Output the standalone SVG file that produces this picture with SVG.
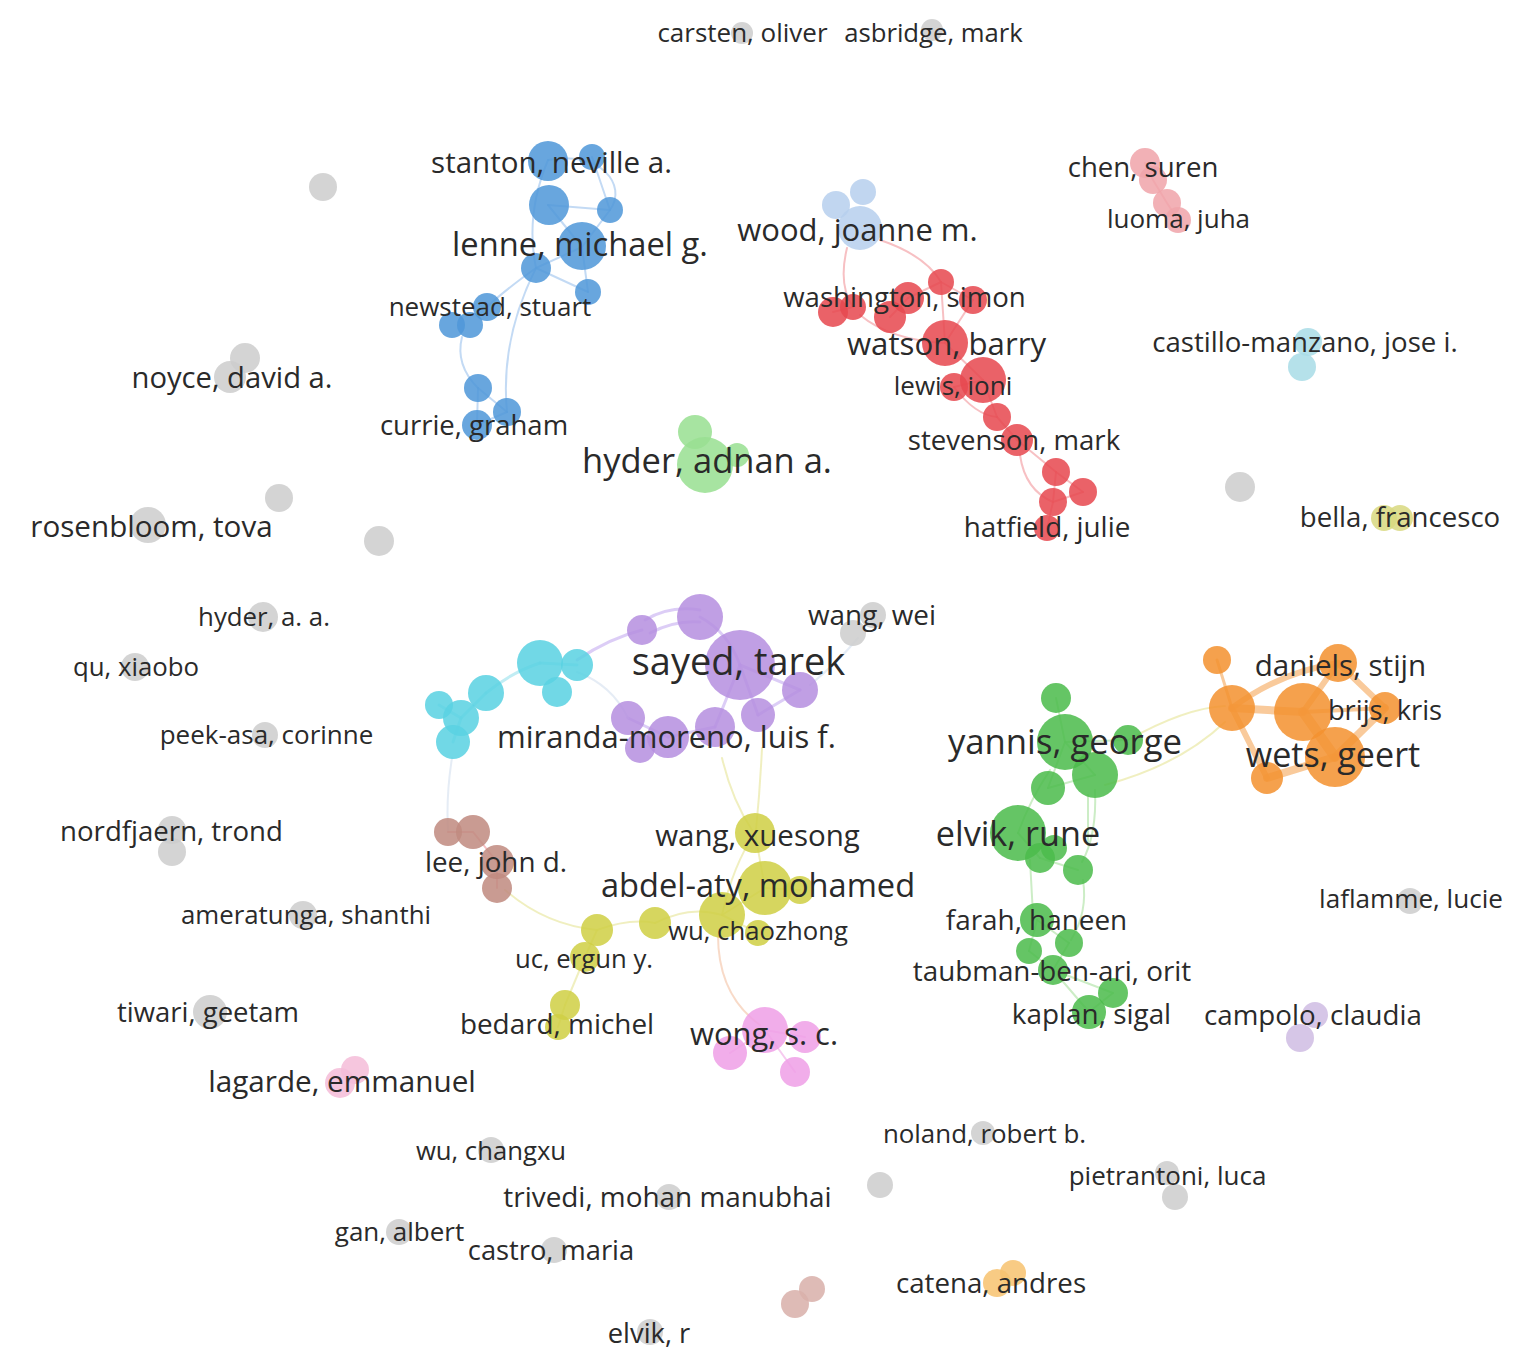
<svg xmlns="http://www.w3.org/2000/svg" width="1537" height="1369" viewBox="0 0 1537 1369">
<style>
text{font-family:"Open Sans","Noto Sans","Liberation Sans",sans-serif;fill:#2a2a2a;text-anchor:middle}
circle{fill-opacity:0.86}
.gy{fill:#cdcdcd}.bl{fill:#4f97d9}.lb{fill:#b7cfee}.rd{fill:#e6484f}.pk{fill:#f0a4aa}.lc{fill:#a9dce6}
.bf{fill:#d8d880}.lg{fill:#98e092}.pu{fill:#b68fe0}.cy{fill:#5ad2e2}.or{fill:#f39230}.gr{fill:#4cbb4c}
.br{fill:#c08a80}.ye{fill:#cfcf45}.wp{fill:#ef9fe6}.lp{fill:#f5bdd8}.lv{fill:#cfbde3}.lo{fill:#f7c270}.bb{fill:#d9b0aa}
#edges path{fill:none;stroke-linecap:round}
.eb{stroke:#a9cbf0;stroke-width:2;opacity:.7}
.er{stroke:#f4a5aa;stroke-width:2;opacity:.7}
.ep{stroke:#cdb8f2;stroke-width:3;opacity:.7}
.ec{stroke:#a6e6ef;stroke-width:3;opacity:.7}
.ey{stroke:#ecebb0;stroke-width:2;opacity:.8}
.eg{stroke:#bfe8b8;stroke-width:2;opacity:.8}
.eo{stroke:#f7b87a;opacity:.75}
.ew{stroke:#f2b3e8;stroke-width:2;opacity:.7}
.ef{stroke:#dfe7f2;stroke-width:2;opacity:.8}
</style>
<rect width="1537" height="1369" fill="#ffffff"/>
<g id="edges">
<path class="eb" d="M548,160 Q525,215 536,268"/>
<path class="eb" d="M548,160 C600,150 628,185 610,210"/>
<path class="eb" d="M592,157 L610,210"/>
<path class="eb" d="M548,205 L582,247"/>
<path class="eb" d="M548,205 L610,210"/>
<path class="eb" d="M582,247 L610,210"/>
<path class="eb" d="M536,268 L582,247"/>
<path class="eb" d="M536,268 L588,292"/>
<path class="eb" d="M582,247 L588,292"/>
<path class="eb" d="M536,268 Q505,290 487,307"/>
<path class="eb" d="M462,337 Q455,365 478,388"/>
<path class="eb" d="M536,268 Q500,340 507,412"/>
<path class="eb" d="M478,388 L507,412"/>
<path class="eb" d="M478,388 L477,425"/>
<path class="eb" d="M507,412 L477,425"/>
<path class="er" d="M880,240 Q925,255 941,282"/>
<path class="er" d="M847,248 Q838,285 853,307"/>
<path class="er" d="M833,312 L853,307"/>
<path class="er" d="M860,315 Q890,340 945,343"/>
<path class="er" d="M890,317 L908,298"/>
<path class="er" d="M908,298 L941,282"/>
<path class="er" d="M941,282 L973,300"/>
<path class="er" d="M941,282 L945,343"/>
<path class="er" d="M973,300 L945,343"/>
<path class="er" d="M945,343 L983,380"/>
<path class="er" d="M954,387 L983,380"/>
<path class="er" d="M954,387 Q975,415 997,417"/>
<path class="er" d="M983,380 L997,417"/>
<path class="er" d="M997,417 L1017,440"/>
<path class="er" d="M1017,440 L1056,472"/>
<path class="er" d="M1020,455 Q1025,490 1053,502"/>
<path class="er" d="M1056,472 L1083,492"/>
<path class="er" d="M1056,472 L1053,502"/>
<path class="er" d="M1053,502 L1047,528"/>
<path class="er" d="M1083,492 L1053,502"/>
<path class="er" d="M1145,163 L1153,180 L1167,203 L1178,220"/>
<path class="ep" d="M577,660 Q610,638 642,630"/>
<path class="ep" d="M645,620 Q670,605 700,610"/>
<path class="ep" d="M650,633 Q675,620 700,622"/>
<path class="ep" d="M700,617 Q728,632 740,665"/>
<path class="ep" d="M740,665 L800,690"/>
<path class="ep" d="M800,690 L758,715"/>
<path class="ep" d="M740,665 L715,727"/>
<path class="ep" d="M740,665 L758,715"/>
<path class="ep" d="M668,737 L715,727"/>
<path class="ep" d="M628,718 L668,737"/>
<path class="ef" d="M577,672 Q612,685 628,718"/>
<path class="ef" d="M810,685 Q838,662 858,638"/>
<path class="ec" d="M540,663 L577,665"/>
<path class="ec" d="M486,693 Q512,672 540,663"/>
<path class="ec" d="M461,718 L486,693"/>
<path class="ec" d="M439,705 L461,718"/>
<path class="ec" d="M453,742 L461,718"/>
<path class="ef" d="M452,758 Q446,795 448,832"/>
<path class="er" d="M448,832 L473,832 L497,862 L497,888"/>
<path class="ey" d="M505,890 Q545,925 597,930"/>
<path class="ey" d="M722,758 Q732,800 752,830"/>
<path class="ey" d="M762,748 Q760,790 756,830"/>
<path class="ey" d="M597,930 Q630,918 655,923"/>
<path class="ey" d="M655,923 Q690,905 722,915"/>
<path class="ey" d="M722,915 L765,888"/>
<path class="ey" d="M755,833 L765,888"/>
<path class="ey" d="M765,888 L800,890"/>
<path class="ey" d="M722,915 L758,933"/>
<path class="ey" d="M755,833 Q733,865 722,915"/>
<path class="ey" d="M597,930 L585,957"/>
<path class="ey" d="M585,957 L565,1005"/>
<path class="ey" d="M565,1005 L558,1027"/>
<path class="ew" d="M718,935 Q718,995 760,1025" style="stroke:#f5cbb0"/>
<path class="ew" d="M765,1030 L730,1053"/>
<path class="ew" d="M765,1030 L805,1037"/>
<path class="ew" d="M765,1030 L795,1072"/>
<path class="ey" d="M1128,740 Q1185,708 1225,706"/>
<path class="ey" d="M1105,785 Q1180,765 1225,722"/>
<path class="eg" d="M1056,698 L1065,742"/>
<path class="eg" d="M1065,742 L1095,775"/>
<path class="eg" d="M1065,742 L1128,740"/>
<path class="eg" d="M1048,788 L1065,742"/>
<path class="eg" d="M1048,788 L1095,775"/>
<path class="eg" d="M1050,770 Q1030,800 1018,833"/>
<path class="eg" d="M1018,833 L1040,858"/>
<path class="eg" d="M1040,858 L1078,870"/>
<path class="eg" d="M1095,790 Q1097,835 1082,862"/>
<path class="eg" d="M1088,795 L1088,845"/>
<path class="eg" d="M1030,860 L1033,915"/>
<path class="eg" d="M1083,880 Q1088,912 1071,940"/>
<path class="eg" d="M1037,920 L1029,951"/>
<path class="eg" d="M1037,920 L1069,943"/>
<path class="eg" d="M1029,951 L1053,970"/>
<path class="eg" d="M1069,943 L1053,970"/>
<path class="eg" d="M1053,970 L1089,1012"/>
<path class="eg" d="M1053,970 L1113,993"/>
<path class="eg" d="M1113,993 L1089,1012"/>
<path class="eo" style="stroke-width:8" d="M1232,708 L1303,712"/>
<path class="eo" style="stroke-width:10" d="M1303,712 L1335,757"/>
<path class="eo" style="stroke-width:6" d="M1232,708 L1267,778"/>
<path class="eo" style="stroke-width:8" d="M1267,778 L1335,757"/>
<path class="eo" style="stroke-width:6" d="M1338,663 L1385,708"/>
<path class="eo" style="stroke-width:8" d="M1385,708 L1335,757"/>
<path class="eo" style="stroke-width:6" d="M1232,708 Q1280,672 1338,663"/>
<path class="eo" style="stroke-width:3" d="M1217,660 L1232,708"/>
<path class="eo" style="stroke-width:6" d="M1303,712 L1338,663"/>
<path class="eo" style="stroke-width:4" d="M1303,712 L1385,708"/>
</g>

<g id="n-gray-323-187"><circle class="gy" cx="323" cy="187" r="14"/></g>
<g id="n-gray-245-358"><circle class="gy" cx="245" cy="358" r="15"/></g>
<g id="n-gray-279-498"><circle class="gy" cx="279" cy="498" r="14"/></g>
<g id="n-gray-379-541"><circle class="gy" cx="379" cy="541" r="15"/></g>
<g id="n-gray-1240-487"><circle class="gy" cx="1240" cy="487" r="15"/></g>
<g id="n-gray-853-633"><circle class="gy" cx="853" cy="633" r="13"/></g>
<g id="n-gray-172-852"><circle class="gy" cx="172" cy="852" r="14"/></g>
<g id="n-gray-880-1185"><circle class="gy" cx="880" cy="1185" r="13"/></g>
<g id="n-gray-1175-1197"><circle class="gy" cx="1175" cy="1197" r="13"/></g>
<g id="n-brown-812-1289"><circle class="bb" cx="812" cy="1289" r="13"/></g>
<g id="n-brown-795-1304"><circle class="bb" cx="795" cy="1304" r="14"/></g>
<g id="n-blue-592-157"><circle class="bl" cx="592" cy="157" r="13"/></g>
<g id="n-blue-548-205"><circle class="bl" cx="549" cy="205" r="20"/></g>
<g id="n-blue-610-210"><circle class="bl" cx="610" cy="210" r="13"/></g>
<g id="n-blue-536-268"><circle class="bl" cx="536" cy="268" r="15"/></g>
<g id="n-blue-588-292"><circle class="bl" cx="588" cy="292" r="13"/></g>
<g id="n-blue-452-325"><circle class="bl" cx="452" cy="325" r="13"/></g>
<g id="n-blue-470-325"><circle class="bl" cx="470" cy="325" r="13"/></g>
<g id="n-blue-478-388"><circle class="bl" cx="478" cy="388" r="14"/></g>
<g id="n-blue-507-412"><circle class="bl" cx="507" cy="412" r="14"/></g>
<g id="n-lblue-836-205"><circle class="lb" cx="836" cy="205" r="14"/></g>
<g id="n-lblue-863-192"><circle class="lb" cx="863" cy="192" r="13"/></g>
<g id="n-red-941-282"><circle class="rd" cx="941" cy="282" r="13"/></g>
<g id="n-red-908-298"><circle class="rd" cx="908" cy="298" r="16"/></g>
<g id="n-red-833-312"><circle class="rd" cx="833" cy="312" r="15"/></g>
<g id="n-red-890-317"><circle class="rd" cx="890" cy="317" r="16"/></g>
<g id="n-red-973-300"><circle class="rd" cx="973" cy="300" r="14"/></g>
<g id="n-red-954-387"><circle class="rd" cx="954" cy="387" r="14"/></g>
<g id="n-red-997-417"><circle class="rd" cx="997" cy="417" r="14"/></g>
<g id="n-red-1056-472"><circle class="rd" cx="1056" cy="472" r="14"/></g>
<g id="n-red-1083-492"><circle class="rd" cx="1083" cy="492" r="14"/></g>
<g id="n-red-1053-502"><circle class="rd" cx="1053" cy="502" r="14"/></g>
<g id="n-pink-1153-180"><circle class="pk" cx="1153" cy="180" r="14"/></g>
<g id="n-pink-1167-203"><circle class="pk" cx="1167" cy="203" r="14"/></g>
<g id="n-lcyan-1302-367"><circle class="lc" cx="1302" cy="367" r="14"/></g>
<g id="n-bella-1384-518"><circle class="bf" cx="1384" cy="518" r="13"/></g>
<g id="n-lgreen-695-432"><circle class="lg" cx="695" cy="432" r="17"/></g>
<g id="n-lgreen-737-455"><circle class="lg" cx="737" cy="455" r="12"/></g>
<g id="n-purple-642-630"><circle class="pu" cx="642" cy="630" r="15"/></g>
<g id="n-purple-700-617"><circle class="pu" cx="700" cy="617" r="23"/></g>
<g id="n-purple-800-690"><circle class="pu" cx="800" cy="690" r="18"/></g>
<g id="n-purple-758-715"><circle class="pu" cx="758" cy="715" r="17"/></g>
<g id="n-purple-715-727"><circle class="pu" cx="715" cy="727" r="20"/></g>
<g id="n-purple-628-718"><circle class="pu" cx="628" cy="718" r="17"/></g>
<g id="n-purple-640-748"><circle class="pu" cx="640" cy="748" r="15"/></g>
<g id="n-cyan-540-663"><circle class="cy" cx="540" cy="663" r="23"/></g>
<g id="n-cyan-577-665"><circle class="cy" cx="577" cy="665" r="16"/></g>
<g id="n-cyan-557-692"><circle class="cy" cx="557" cy="692" r="15"/></g>
<g id="n-cyan-486-693"><circle class="cy" cx="486" cy="693" r="18"/></g>
<g id="n-cyan-439-705"><circle class="cy" cx="439" cy="705" r="14"/></g>
<g id="n-cyan-461-718"><circle class="cy" cx="461" cy="718" r="18"/></g>
<g id="n-cyan-453-742"><circle class="cy" cx="453" cy="742" r="17"/></g>
<g id="n-orange-1217-660"><circle class="or" cx="1217" cy="660" r="14"/></g>
<g id="n-orange-1232-708"><circle class="or" cx="1232" cy="708" r="23"/></g>
<g id="n-orange-1303-712"><circle class="or" cx="1303" cy="712" r="29"/></g>
<g id="n-orange-1267-778"><circle class="or" cx="1267" cy="778" r="16"/></g>
<g id="n-green-1056-698"><circle class="gr" cx="1056" cy="698" r="15"/></g>
<g id="n-green-1128-740"><circle class="gr" cx="1128" cy="740" r="15"/></g>
<g id="n-green-1095-775"><circle class="gr" cx="1095" cy="775" r="23"/></g>
<g id="n-green-1048-788"><circle class="gr" cx="1048" cy="788" r="17"/></g>
<g id="n-green-1040-858"><circle class="gr" cx="1040" cy="858" r="15"/></g>
<g id="n-green-1054-848"><circle class="gr" cx="1054" cy="848" r="13"/></g>
<g id="n-green-1078-870"><circle class="gr" cx="1078" cy="870" r="15"/></g>
<g id="n-green-1029-951"><circle class="gr" cx="1029" cy="951" r="13"/></g>
<g id="n-green-1069-943"><circle class="gr" cx="1069" cy="943" r="14"/></g>
<g id="n-green-1113-993"><circle class="gr" cx="1113" cy="993" r="15"/></g>
<g id="n-brown-448-832"><circle class="br" cx="448" cy="832" r="14"/></g>
<g id="n-brown-473-832"><circle class="br" cx="473" cy="832" r="17"/></g>
<g id="n-brown-497-888"><circle class="br" cx="497" cy="888" r="15"/></g>
<g id="n-yellow-800-890"><circle class="ye" cx="800" cy="890" r="14"/></g>
<g id="n-yellow-722-915"><circle class="ye" cx="722" cy="915" r="23"/></g>
<g id="n-yellow-655-923"><circle class="ye" cx="655" cy="923" r="16"/></g>
<g id="n-yellow-597-930"><circle class="ye" cx="597" cy="930" r="16"/></g>
<g id="n-yellow-565-1005"><circle class="ye" cx="565" cy="1005" r="15"/></g>
<g id="n-pinkw-730-1053"><circle class="wp" cx="730" cy="1053" r="17"/></g>
<g id="n-pinkw-805-1037"><circle class="wp" cx="805" cy="1037" r="16"/></g>
<g id="n-pinkw-795-1072"><circle class="wp" cx="795" cy="1072" r="15"/></g>
<g id="n-lpink-355-1070"><circle class="lp" cx="355" cy="1070" r="14"/></g>
<g id="n-lav-1300-1038"><circle class="lv" cx="1300" cy="1038" r="14"/></g>
<g id="n-lorange-1013-1273"><circle class="lo" cx="1013" cy="1273" r="13"/></g>

<g id="n-carsten-oliver"><circle class="gy" cx="742" cy="33" r="11"/><text x="742.5" y="42" font-size="26">carsten, oliver</text></g>
<g id="n-asbridge-mark"><circle class="gy" cx="932" cy="30" r="11"/><text x="933.5" y="42" font-size="25.7">asbridge, mark</text></g>
<g id="n-stanton-neville"><circle class="bl" cx="548" cy="161" r="20"/><text x="551.5" y="173" font-size="29.5">stanton, neville a.</text></g>
<g id="n-lenne-michael"><circle class="bl" cx="582" cy="246" r="24"/><text x="580" y="256" font-size="32.7">lenne, michael g.</text></g>
<g id="n-newstead-stuart"><circle class="bl" cx="487" cy="307" r="14"/><text x="490" y="316" font-size="26">newstead, stuart</text></g>
<g id="n-currie-graham"><circle class="bl" cx="477" cy="425" r="15"/><text x="474" y="435" font-size="27.5">currie, graham</text></g>
<g id="n-noyce-david"><circle class="gy" cx="230" cy="377" r="16"/><text x="232" y="388" font-size="29.2">noyce, david a.</text></g>
<g id="n-rosenbloom-tova"><circle class="gy" cx="148" cy="525" r="18"/><text x="151.5" y="537" font-size="29.6">rosenbloom, tova</text></g>
<g id="n-hyder-adnan"><circle class="lg" cx="705" cy="465" r="28"/><text x="707" y="473" font-size="34.5">hyder, adnan a.</text></g>
<g id="n-wood-joanne"><circle class="lb" cx="860" cy="228" r="22"/><text x="857.5" y="241" font-size="31">wood, joanne m.</text></g>
<g id="n-washington-simon"><circle class="rd" cx="853" cy="307" r="13"/><text x="904.5" y="307" font-size="27.6">washington, simon</text></g>
<g id="n-watson-barry"><circle class="rd" cx="945" cy="343" r="23"/><text x="946.5" y="355" font-size="31.2">watson, barry</text></g>
<g id="n-lewis-ioni"><circle class="rd" cx="983" cy="380" r="23"/><text x="953" y="395" font-size="26">lewis, ioni</text></g>
<g id="n-stevenson-mark"><circle class="rd" cx="1017" cy="440" r="16"/><text x="1014" y="450" font-size="27.6">stevenson, mark</text></g>
<g id="n-hatfield-julie"><circle class="rd" cx="1047" cy="528" r="13"/><text x="1047" y="537" font-size="27.8">hatfield, julie</text></g>
<g id="n-chen-suren"><circle class="pk" cx="1145" cy="163" r="15"/><text x="1143" y="177" font-size="27.6">chen, suren</text></g>
<g id="n-luoma-juha"><circle class="pk" cx="1178" cy="220" r="13"/><text x="1178.5" y="228" font-size="26">luoma, juha</text></g>
<g id="n-castillo-manzano"><circle class="lc" cx="1308" cy="342" r="14"/><text x="1305" y="352" font-size="27.6">castillo-manzano, jose i.</text></g>
<g id="n-bella-francesco"><circle class="bf" cx="1400" cy="518" r="13"/><text x="1400" y="527" font-size="27.6">bella, francesco</text></g>
<g id="n-hyder-aa"><circle class="gy" cx="263" cy="617" r="15"/><text x="264" y="626" font-size="25.8">hyder, a. a.</text></g>
<g id="n-wang-wei"><circle class="gy" cx="873" cy="615" r="13"/><text x="872" y="625" font-size="27.9">wang, wei</text></g>
<g id="n-qu-xiaobo"><circle class="gy" cx="135" cy="667" r="14"/><text x="136" y="676" font-size="25.8">qu, xiaobo</text></g>
<g id="n-sayed-tarek"><circle class="pu" cx="740" cy="665" r="35"/><text x="738.5" y="675" font-size="37.9">sayed, tarek</text></g>
<g id="n-peek-asa"><circle class="gy" cx="265" cy="735" r="13"/><text x="266.5" y="744" font-size="26">peek-asa, corinne</text></g>
<g id="n-miranda-moreno"><circle class="pu" cx="668" cy="737" r="21"/><text x="666.5" y="748" font-size="31">miranda-moreno, luis f.</text></g>
<g id="n-daniels-stijn"><circle class="or" cx="1338" cy="663" r="19"/><text x="1340.5" y="676" font-size="29.6">daniels, stijn</text></g>
<g id="n-brijs-kris"><circle class="or" cx="1385" cy="708" r="16"/><text x="1385" y="720" font-size="27.3">brijs, kris</text></g>
<g id="n-yannis-george"><circle class="gr" cx="1065" cy="742" r="28"/><text x="1065" y="754" font-size="34.7">yannis, george</text></g>
<g id="n-wets-geert"><circle class="or" cx="1335" cy="757" r="30"/><text x="1333" y="767" font-size="34.1">wets, geert</text></g>
<g id="n-nordfjaern-trond"><circle class="gy" cx="172" cy="830" r="14"/><text x="171.5" y="841" font-size="27.6">nordfjaern, trond</text></g>
<g id="n-lee-john"><circle class="br" cx="497" cy="862" r="17"/><text x="496" y="872" font-size="27.8">lee, john d.</text></g>
<g id="n-wang-xuesong"><circle class="ye" cx="755" cy="833" r="20"/><text x="757.5" y="846" font-size="29.5">wang, xuesong</text></g>
<g id="n-elvik-rune"><circle class="gr" cx="1018" cy="833" r="28"/><text x="1018" y="846" font-size="34.2">elvik, rune</text></g>
<g id="n-abdel-aty"><circle class="ye" cx="765" cy="888" r="27"/><text x="758" y="897" font-size="32.6">abdel-aty, mohamed</text></g>
<g id="n-ameratunga"><circle class="gy" cx="303" cy="915" r="14"/><text x="306" y="924" font-size="25.8">ameratunga, shanthi</text></g>
<g id="n-laflamme-lucie"><circle class="gy" cx="1410" cy="901" r="13"/><text x="1411" y="908" font-size="26.1">laflamme, lucie</text></g>
<g id="n-farah-haneen"><circle class="gr" cx="1037" cy="920" r="17"/><text x="1036.5" y="930" font-size="27.9">farah, haneen</text></g>
<g id="n-wu-chaozhong"><circle class="ye" cx="758" cy="933" r="13"/><text x="758" y="940" font-size="25.7">wu, chaozhong</text></g>
<g id="n-uc-ergun"><circle class="ye" cx="585" cy="957" r="15"/><text x="584" y="968" font-size="25.7">uc, ergun y.</text></g>
<g id="n-taubman-ben-ari"><circle class="gr" cx="1053" cy="970" r="15"/><text x="1052" y="981" font-size="27.8">taubman-ben-ari, orit</text></g>
<g id="n-tiwari-geetam"><circle class="gy" cx="210" cy="1012" r="17"/><text x="208" y="1022" font-size="27.5">tiwari, geetam</text></g>
<g id="n-bedard-michel"><circle class="ye" cx="558" cy="1027" r="13"/><text x="557" y="1034" font-size="27.9">bedard, michel</text></g>
<g id="n-kaplan-sigal"><circle class="gr" cx="1089" cy="1012" r="17"/><text x="1091.5" y="1024" font-size="27.9">kaplan, sigal</text></g>
<g id="n-campolo-claudia"><circle class="lv" cx="1315" cy="1015" r="13"/><text x="1313" y="1025" font-size="27.7">campolo, claudia</text></g>
<g id="n-wong-sc"><circle class="wp" cx="765" cy="1030" r="23"/><text x="764" y="1045" font-size="30.9">wong, s. c.</text></g>
<g id="n-lagarde-emmanuel"><circle class="lp" cx="340" cy="1083" r="15"/><text x="342" y="1092" font-size="29.7">lagarde, emmanuel</text></g>
<g id="n-noland-robert"><circle class="gy" cx="983" cy="1133" r="12"/><text x="984.5" y="1143" font-size="25.9">noland, robert b.</text></g>
<g id="n-wu-changxu"><circle class="gy" cx="491" cy="1150" r="13"/><text x="491" y="1160" font-size="25.7">wu, changxu</text></g>
<g id="n-pietrantoni-luca"><circle class="gy" cx="1167" cy="1173" r="12"/><text x="1167.5" y="1185" font-size="26">pietrantoni, luca</text></g>
<g id="n-trivedi-mohan"><circle class="gy" cx="669" cy="1197" r="13"/><text x="667.5" y="1207" font-size="27.9">trivedi, mohan manubhai</text></g>
<g id="n-gan-albert"><circle class="gy" cx="399" cy="1232" r="13"/><text x="399.5" y="1241" font-size="26">gan, albert</text></g>
<g id="n-castro-maria"><circle class="gy" cx="554" cy="1250" r="13"/><text x="551" y="1260" font-size="27.3">castro, maria</text></g>
<g id="n-catena-andres"><circle class="lo" cx="997" cy="1283" r="14"/><text x="991" y="1293" font-size="27.7">catena, andres</text></g>
<g id="n-elvik-r"><circle class="gy" cx="650" cy="1332" r="13"/><text x="649" y="1343" font-size="27.3">elvik, r</text></g>
</svg>
